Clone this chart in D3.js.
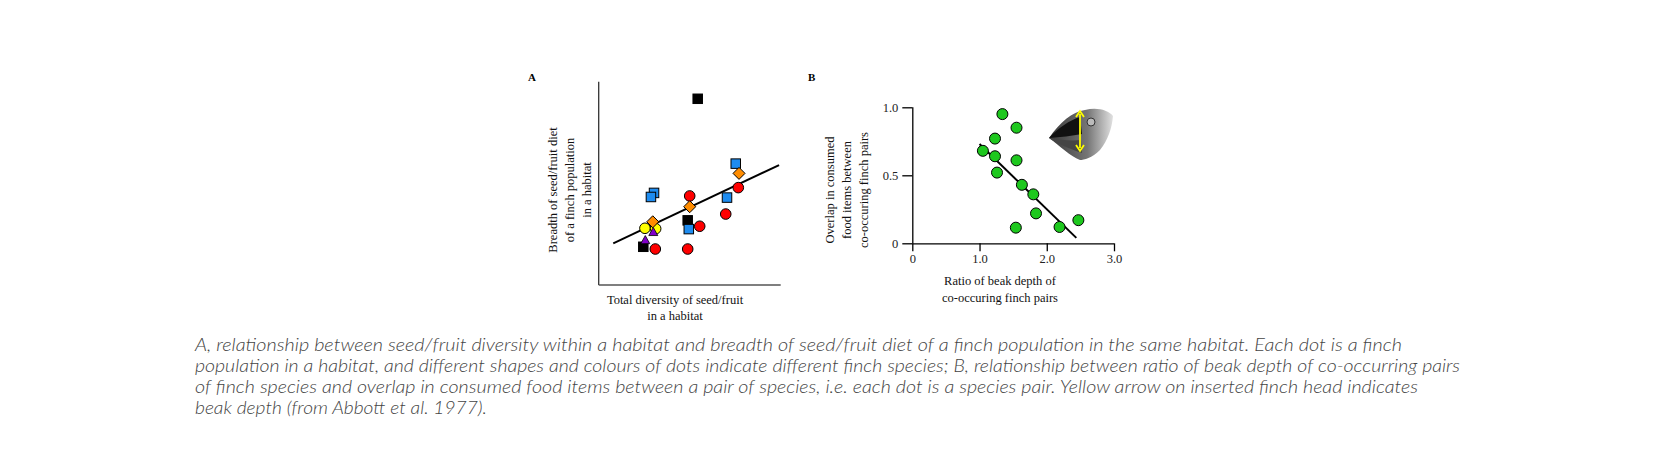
<!DOCTYPE html>
<html><head><meta charset="utf-8">
<script src="https://cdn.jsdelivr.net/npm/d3@7"></script>
<style>body{margin:0;background:#fff}svg{display:block}</style>
</head><body>
<svg id="c" width="1653" height="457"></svg>
<script>
// Panel A data (arbitrary units 0-10)
const blackSquares = [[5.44,9.16],[4.89,3.18],[2.45,1.88]];
const blueSquares = [[7.53,5.97],[3.04,4.53],[2.87,4.33],[4.95,2.75],[7.05,4.30]];
const orangeDiamonds = [[7.71,5.49],[5.0,3.85],[2.97,3.11]];
const redCircles = [[7.67,4.79],[5.0,4.38],[6.98,3.49],[5.55,2.89],[3.11,1.77],[4.89,1.77]];
const yellowCircles = [[2.54,2.79],[3.13,2.77]];
const purpleTriangles = [[2.56,2.21],[3.0,2.61]];
const fitA = [[0.8,2.05],[9.91,5.90]];
// Panel B data
const ratioB = [1.05,1.23,1.23,1.26,1.34,1.55,1.55,1.54,1.63,1.80,1.84,2.19,2.47];
const overlapB = [0.68,0.64,0.77,0.52,0.95,0.85,0.61,0.115,0.43,0.36,0.22,0.12,0.17];
const fitB = [[1.0,0.73],[2.44,0.04]];
const xTicksB = [0,1,2,3];
const xTickLabelsB = ["0","1.0","2.0","3.0"];
const yTicksB = [0,0.5,1];
const yTickLabelsB = ["0","0.5","1.0"];
const caption = [
 "A, relationship between seed/fruit diversity within a habitat and breadth of seed/fruit diet of a finch population in the same habitat. Each dot is a finch",
 "population in a habitat, and different shapes and colours of dots indicate different finch species; B, relationship between ratio of beak depth of co-occurring pairs",
 "of finch species and overlap in consumed food items between a pair of species, i.e. each dot is a species pair. Yellow arrow on inserted finch head indicates",
 "beak depth (from Abbott et al. 1977)."
];
const captionWidths = [1207,1265,1223,292];

const svg = d3.select("#c");
const serif = "'Liberation Serif','DejaVu Serif',serif";

// ---------- Panel A ----------
const xA = d3.scaleLinear().domain([0,10]).range([598.7,780.7]);
const yA = d3.scaleLinear().domain([0,10]).range([285,81.7]);
const gA = svg.append("g");
gA.append("line").attr("x1",xA(0)).attr("x2",xA(0)).attr("y1",yA(10)).attr("y2",yA(0)).attr("stroke","#333").attr("stroke-width",1.3);
gA.append("line").attr("x1",xA(0)).attr("x2",xA(10)).attr("y1",yA(0)).attr("y2",yA(0)).attr("stroke","#555").attr("stroke-width",1.3);
gA.append("line").attr("x1",xA(fitA[0][0])).attr("y1",yA(fitA[0][1])).attr("x2",xA(fitA[1][0])).attr("y2",yA(fitA[1][1])).attr("stroke","#000").attr("stroke-width",2);
const sq=9.5;
function squares(d,c){gA.selectAll(null).data(d).join("rect").attr("x",p=>xA(p[0])-sq/2).attr("y",p=>yA(p[1])-sq/2).attr("width",sq).attr("height",sq).attr("fill",c).attr("stroke","#000").attr("stroke-width",1);}
function circles(d,c){gA.selectAll(null).data(d).join("circle").attr("cx",p=>xA(p[0])).attr("cy",p=>yA(p[1])).attr("r",5.3).attr("fill",c).attr("stroke","#000").attr("stroke-width",1);}
squares(blackSquares,"#000");
squares(blueSquares,"#1e8cf0");
circles(redCircles,"#ff0000");
circles(yellowCircles,"#ffff00");
gA.selectAll(null).data(orangeDiamonds).join("path").attr("d",p=>{const x=xA(p[0]),y=yA(p[1]),r=6;return `M${x},${y-r}L${x+r},${y}L${x},${y+r}L${x-r},${y}Z`;}).attr("fill","#ff8c00").attr("stroke","#000").attr("stroke-width",1);
gA.selectAll(null).data(purpleTriangles).join("path").attr("d",p=>{const x=xA(p[0]),y=yA(p[1]),r=4.5;return `M${x},${y-r}L${x+r},${y+r*0.8}L${x-r},${y+r*0.8}Z`;}).attr("fill","#8000c8").attr("stroke","#000").attr("stroke-width",0.8);
svg.append("text").attr("x",528).attr("y",81).attr("font-family",serif).attr("font-weight","bold").attr("font-size",11).text("A");
const ylA=["Breadth of seed/fruit diet","of a finch population","in a habitat"];
ylA.forEach((t,i)=>svg.append("text").attr("transform",`translate(${557+i*17},190) rotate(-90)`).attr("text-anchor","middle").attr("font-family",serif).attr("font-size",12.5).attr("fill","#111").text(t));
svg.append("text").attr("x",675).attr("y",304).attr("text-anchor","middle").attr("font-family",serif).attr("font-size",12.5).attr("fill","#111").text("Total diversity of seed/fruit");
svg.append("text").attr("x",675).attr("y",320).attr("text-anchor","middle").attr("font-family",serif).attr("font-size",12.5).attr("fill","#111").text("in a habitat");

// ---------- Panel B ----------
const xB = d3.scaleLinear().domain([0,3]).range([912.3,1114]);
const yB = d3.scaleLinear().domain([0,1]).range([243.3,107.3]);
const gB = svg.append("g");
gB.append("g").attr("transform",`translate(0,${yB(0)})`).call(d3.axisBottom(xB).tickValues(xTicksB).tickFormat((d,i)=>xTickLabelsB[i]).tickSize(8).tickPadding(3)).call(g=>{g.select(".domain").attr("d",`M${xB(0)},0.5H${xB(3)}`);});
gB.append("g").attr("transform",`translate(${xB(0)},0)`).call(d3.axisLeft(yB).tickValues(yTicksB).tickFormat((d,i)=>yTickLabelsB[i]).tickSize(10).tickPadding(4)).call(g=>g.select(".domain").attr("d",`M0.5,${yB(1)}V${yB(0)}`));
gB.selectAll(".tick text").attr("font-family",serif).attr("font-size",12.5).attr("fill","#222");
gB.selectAll(".domain,.tick line").attr("stroke","#000").attr("stroke-width",1.3);
gB.append("line").attr("x1",xB(fitB[0][0])).attr("y1",yB(fitB[0][1])).attr("x2",xB(fitB[1][0])).attr("y2",yB(fitB[1][1])).attr("stroke","#000").attr("stroke-width",2);
gB.selectAll(null).data(ratioB).join("circle").attr("cx",d=>xB(d)).attr("cy",(d,i)=>yB(overlapB[i])).attr("r",5.5).attr("fill","#1ec81e").attr("stroke","#000").attr("stroke-width",1);
svg.append("text").attr("x",808).attr("y",81).attr("font-family",serif).attr("font-weight","bold").attr("font-size",11).text("B");
const ylB=["Overlap in consumed","food items between","co-occuring finch pairs"];
ylB.forEach((t,i)=>svg.append("text").attr("transform",`translate(${834+i*17},190) rotate(-90)`).attr("text-anchor","middle").attr("font-family",serif).attr("font-size",12.5).attr("fill","#111").text(t));
svg.append("text").attr("x",1000).attr("y",285).attr("text-anchor","middle").attr("font-family",serif).attr("font-size",12.5).attr("fill","#111").text("Ratio of beak depth of");
svg.append("text").attr("x",1000).attr("y",302).attr("text-anchor","middle").attr("font-family",serif).attr("font-size",12.5).attr("fill","#111").text("co-occuring finch pairs");

// finch head sketch
const defs=svg.append("defs");
const gr=defs.append("linearGradient").attr("id","hg").attr("x1","0").attr("x2","1");
gr.append("stop").attr("offset","0").attr("stop-color","#222");
gr.append("stop").attr("offset","0.6").attr("stop-color","#666");
gr.append("stop").attr("offset","1").attr("stop-color","#ddd");
const hd=svg.append("g");
hd.append("path").attr("d","M1049,138 C1060,122 1072,112 1085,110 C1097,107 1108,110 1113,116 C1112,128 1108,140 1100,150 C1092,158 1084,160 1080,160 C1070,156 1060,146 1049,138Z").attr("fill","url(#hg)").attr("opacity",0.9);
hd.append("path").attr("d","M1049,138 C1058,128 1070,120 1080,117 L1082,134 C1072,136 1060,137 1049,138Z").attr("fill","#111");
hd.append("path").attr("d","M1049,138 C1060,140 1072,141 1081,140 L1082,153 C1070,149 1058,144 1049,138Z").attr("fill","#444");
hd.append("circle").attr("cx",1091).attr("cy",122).attr("r",4).attr("fill","#bbb").attr("stroke","#333");
hd.append("line").attr("x1",1080).attr("x2",1080).attr("y1",114).attr("y2",148).attr("stroke","#ffff00").attr("stroke-width",1.8);
hd.append("path").attr("d","M1076,117L1080,111L1084,117M1076,145L1080,151L1084,145").attr("fill","none").attr("stroke","#ffff00").attr("stroke-width",1.8);

// caption
caption.forEach((t,i)=>svg.append("text").attr("x",195).attr("y",351+i*21).attr("font-family","'Lato','Open Sans',sans-serif").attr("font-style","italic").attr("font-weight",300).attr("font-size",17).attr("fill","#444").attr("textLength",captionWidths[i]).attr("lengthAdjust","spacingAndGlyphs").text(t));
</script>
</body></html>
